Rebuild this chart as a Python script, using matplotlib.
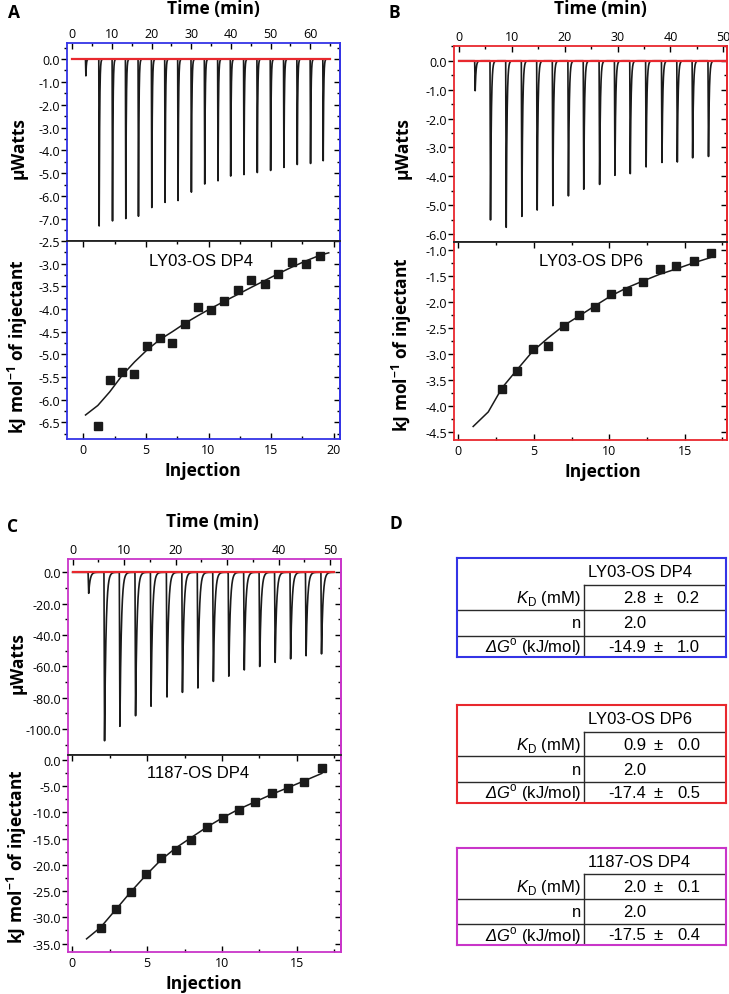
import numpy as np
import matplotlib
matplotlib.use('Agg')
import matplotlib.pyplot as plt
from matplotlib.ticker import MultipleLocator, FormatStrFormatter

W, H = 729, 995

# panel A - LY03-OS DP4
a_inj_time = [3.36, 6.71, 10.07, 13.42, 16.61, 19.97, 23.32, 26.59, 29.95, 33.31,
              36.66, 39.85, 43.2, 46.56, 49.92, 53.27, 56.63, 59.98, 63.17]
a_inj_peak = [-0.75, -7.44, -7.14, -7.03, -6.90, -6.56, -6.34, -6.23, -5.86, -5.57,
              -5.42, -5.19, -5.12, -4.97, -4.94, -4.81, -4.67, -4.62, -4.48]
a_heat_x = [1.16, 2.11, 3.12, 4.09, 5.07, 6.09, 7.12, 8.15, 9.20, 10.17,
            11.26, 12.32, 13.43, 14.51, 15.57, 16.70, 17.76, 18.93]
a_heat_y = [-6.58, -5.57, -5.39, -5.43, -4.81, -4.63, -4.74, -4.34, -3.96, -4.02,
            -3.83, -3.59, -3.36, -3.45, -3.22, -2.96, -3.01, -2.83]
a_fit_x = [0.18, 1.16, 2.11, 3.12, 4.09, 5.07, 6.09, 7.12, 8.15, 9.20, 10.17,
           11.26, 12.32, 13.43, 14.51, 15.57, 16.70, 17.76, 18.93, 19.6]
a_fit_y = [-6.34, -6.13, -5.83, -5.46, -5.17, -4.91, -4.68, -4.50, -4.31, -4.14, -3.99,
           -3.83, -3.68, -3.52, -3.37, -3.22, -3.07, -2.94, -2.81, -2.76]

# panel B - LY03-OS DP6
b_inj_time = [2.96, 5.86, 8.83, 11.79, 14.69, 17.65, 20.6, 23.5, 26.5, 29.4,
              32.3, 35.3, 38.3, 41.2, 44.1, 47.1]
b_inj_peak = [-1.04, -5.54, -5.82, -5.45, -5.19, -5.02, -4.69, -4.50, -4.33, -3.98,
              -3.92, -3.69, -3.54, -3.54, -3.37, -3.32]
b_heat_x = [2.91, 3.91, 4.93, 5.93, 6.97, 8.02, 9.04, 10.09, 11.17, 12.24,
            13.35, 14.42, 15.60, 16.71]
b_heat_y = [-3.68, -3.33, -2.90, -2.85, -2.46, -2.26, -2.10, -1.85, -1.80, -1.62,
            -1.36, -1.31, -1.21, -1.07]
b_fit_x = [0.98, 1.98, 2.91, 3.91, 4.93, 5.93, 6.97, 8.02, 9.04, 10.09, 11.17,
           12.24, 13.35, 14.42, 15.60, 16.71]
b_fit_y = [-4.40, -4.12, -3.65, -3.30, -2.95, -2.70, -2.46, -2.27, -2.08, -1.89, -1.73,
           -1.60, -1.47, -1.37, -1.25, -1.15]

# panel C - 1187-OS DP4
c_inj_time = [3.0, 6.08, 9.06, 12.1, 15.1, 18.2, 21.2, 24.2, 27.2, 30.2,
              33.2, 36.2, 39.2, 42.2, 45.2, 48.2]
c_inj_peak = [-13.4, -108.1, -98.5, -91.9, -85.8, -79.8, -77.2, -74.0, -70.2, -66.4,
              -62.8, -60.2, -57.9, -55.3, -53.6, -52.1]
c_heat_x = [1.89, 2.91, 3.89, 4.91, 5.91, 6.91, 7.95, 9.00, 10.07, 11.13,
            12.22, 13.31, 14.42, 15.51, 16.67]
c_heat_y = [-32.1, -28.4, -25.1, -21.7, -18.7, -17.2, -15.2, -12.9, -11.1, -9.5,
            -8.1, -6.3, -5.4, -4.3, -1.6]
c_fit_x = [0.95, 1.89, 2.91, 3.89, 4.91, 5.91, 6.91, 7.95, 9.00, 10.07, 11.13,
           12.22, 13.31, 14.42, 15.51, 16.67]
c_fit_y = [-34.1, -31.9, -28.5, -25.2, -22.0, -19.1, -16.8, -14.8, -12.8, -11.0, -9.4,
           -8.0, -6.6, -5.3, -4.0, -2.6]

# panel D tables
tbl_names = ['LY03-OS DP4', 'LY03-OS DP6', '1187-OS DP4']
kd_mean = ['2.8', '0.9', '2.0']
kd_err = ['0.2', '0.0', '0.1']
n_val = ['2.0', '2.0', '2.0']
dg_mean = ['-14.9', '-17.4', '-17.5']
dg_err = ['1.0', '0.5', '0.4']

BLUE = '#3434e6'
RED = '#e8282e'
MAG = '#c935c9'

plt.rcParams['font.family'] = ['Open Sans', 'DejaVu Sans']
plt.rcParams['axes.unicode_minus'] = False
plt.rcParams['mathtext.fontset'] = 'custom'
plt.rcParams['mathtext.rm'] = 'Liberation Sans'
plt.rcParams['mathtext.sf'] = 'Liberation Sans:italic'
plt.rcParams['mathtext.bf'] = 'Open Sans:bold'

fig = plt.figure(figsize=(W / 100, H / 100), dpi=100)


def box(l, t, r, b):
    return [l / W, 1 - b / H, (r - l) / W, (b - t) / H]


def ftext(x, y, s, **kw):
    fig.text(x / W, 1 - y / H, s, ha=kw.pop('ha', 'center'), va='center', **kw)


def thermogram(t, times, peaks, rise, tau):
    y = np.zeros_like(t)
    for t0, d in zip(times, peaks):
        dt = t - t0
        m1 = (dt >= 0) & (dt < rise)
        y[m1] += d * dt[m1] / rise
        m2 = dt >= rise
        y[m2] += d * np.exp(-(dt[m2] - rise) / tau)
    return y


def frame(ax, color, upper, ymaj, ymin, xmaj, xmin, yfmt):
    for s in ['left', 'right']:
        ax.spines[s].set_color(color)
    ax.spines['top' if upper else 'bottom'].set_color(color)
    ax.spines['bottom' if upper else 'top'].set_color('#222222')
    for s in ax.spines.values():
        s.set_linewidth(1.3)
    ax.yaxis.set_major_locator(MultipleLocator(ymaj))
    ax.yaxis.set_minor_locator(MultipleLocator(ymin))
    ax.yaxis.set_major_formatter(FormatStrFormatter(yfmt))
    ax.xaxis.set_major_locator(MultipleLocator(xmaj))
    ax.xaxis.set_minor_locator(MultipleLocator(xmin))
    ax.xaxis.set_major_formatter(FormatStrFormatter('%d'))
    ax.tick_params(axis='y', which='both', direction='out', left=True, right=False,
                   labelsize=9, pad=1, width=1)
    ax.tick_params(axis='y', which='major', length=4)
    ax.tick_params(axis='y', which='minor', length=2.5)
    if upper:
        ax.tick_params(axis='x', which='both', direction='in', top=True, bottom=False,
                       labeltop=True, labelbottom=False, labelsize=9, pad=2, width=1)
    else:
        ax.tick_params(axis='x', which='both', direction='in', top=True, bottom=True,
                       labelsize=9, pad=3, width=1)
    ax.tick_params(axis='x', which='major', length=4)
    ax.tick_params(axis='x', which='minor', length=2.5)
    sec = ax.secondary_yaxis('right')
    sec.yaxis.set_major_locator(MultipleLocator(ymaj))
    sec.yaxis.set_minor_locator(MultipleLocator(ymin))
    sec.tick_params(which='both', direction='in', labelright=False, width=1)
    sec.tick_params(which='major', length=4)
    sec.tick_params(which='minor', length=2.5)
    sec.spines['right'].set_color(color)
    sec.spines['right'].set_linewidth(1.3)


panels = [
    dict(color=BLUE, top=(67, 44, 340, 242), bot=(67, 242, 340, 440),
         times=a_inj_time, peaks=a_inj_peak, tend=65.0, txlim=(-1.3, 67.5),
         tylim=(-7.96, 0.7), tymaj=1.0, tymin=0.5, rise=0.1, tau=0.12,
         hx=a_heat_x, hy=a_heat_y, fx=a_fit_x, fy=a_fit_y,
         bxlim=(-1.3, 20.5), bylim=(-6.87, -2.499), bymaj=0.5, bymin=0.25,
         bxmaj=5, bxmin=2.5, byfmt='%.1f', tyfmt='%.1f'),
    dict(color=RED, top=(454, 47, 727, 243), bot=(454, 243, 727, 441),
         times=b_inj_time, peaks=b_inj_peak, tend=50.5, txlim=(-0.95, 50.7),
         tylim=(-6.27, 0.51), tymaj=1.0, tymin=0.5, rise=0.1, tau=0.15,
         hx=b_heat_x, hy=b_heat_y, fx=b_fit_x, fy=b_fit_y,
         bxlim=(-0.29, 17.8), bylim=(-4.66, -0.85), bymaj=0.5, bymin=0.25,
         bxmaj=5, bxmin=2.5, byfmt='%.1f', tyfmt='%.1f'),
    dict(color=MAG, top=(68, 560, 341, 756), bot=(68, 756, 341, 953),
         times=c_inj_time, peaks=c_inj_peak, tend=50.7, txlim=(-0.9, 52.1),
         tylim=(-116.6, 8.5), tymaj=20, tymin=10, rise=0.12, tau=0.28,
         hx=c_heat_x, hy=c_heat_y, fx=c_fit_x, fy=c_fit_y,
         bxlim=(-0.29, 17.95), bylim=(-36.6, 0.9), bymaj=5, bymin=2.5,
         bxmaj=5, bxmin=2.5, byfmt='%.1f', tyfmt='%.1f'),
]

for p in panels:
    ax1 = fig.add_axes(box(*p['top']))
    t = np.linspace(0, p['tend'], 15000)
    ax1.plot(t, thermogram(t, p['times'], p['peaks'], p['rise'], p['tau']),
             color='#1a1a1a', lw=1.2)
    ax1.plot([0, p['tend']], [0, 0], color=RED, lw=1.6)
    ax1.set_xlim(*p['txlim'])
    ax1.set_ylim(*p['tylim'])
    frame(ax1, p['color'], True, p['tymaj'], p['tymin'], 10, 5, p['tyfmt'])

    ax2 = fig.add_axes(box(*p['bot']))
    ax2.plot(p['fx'], p['fy'], color='#1a1a1a', lw=1.1)
    ax2.plot(p['hx'], p['hy'], 's', color='#1a1a1a', ms=5.2)
    ax2.set_xlim(*p['bxlim'])
    ax2.set_ylim(*p['bylim'])
    frame(ax2, p['color'], False, p['bymaj'], p['bymin'], p['bxmaj'], p['bxmin'], p['byfmt'])

# axis titles and panel letters
lab = dict(fontsize=12.5, fontweight='bold')
ylab = r'kJ mol$^{\mathbf{-1}}$ of injectant'
ftext(213, 9, 'Time (min)', **lab)
ftext(600, 9, 'Time (min)', **lab)
ftext(212, 522, 'Time (min)', **lab)
ftext(19, 148, 'μWatts', rotation=90, **lab)
ftext(403, 148, 'μWatts', rotation=90, **lab)
ftext(18, 663, 'μWatts', rotation=90, **lab)
ftext(18, 347, ylab, rotation=90, **lab)
ftext(402, 345, ylab, rotation=90, **lab)
ftext(17, 857, ylab, rotation=90, **lab)
ftext(203, 471, 'Injection', **lab)
ftext(603, 472, 'Injection', **lab)
ftext(204, 984, 'Injection', **lab)

inner = dict(fontsize=12, family='Liberation Sans')
ftext(201, 261, tbl_names[0], **inner)
ftext(591, 261, tbl_names[1], **inner)
ftext(198, 774, tbl_names[2], **inner)

let = dict(fontsize=12.5, fontweight='bold')
ftext(14, 13, 'A', **let)
ftext(394, 13, 'B', **let)
ftext(13, 527, 'C', **let)
ftext(396, 524, 'D', **let)

# tables
tcolors = [BLUE, RED, MAG]
tboxes = [(457, 559, 726, 658), (457, 706, 726, 804), (457, 849, 726, 946)]
rows = [1.0, 0.727, 0.475, 0.212, 0.0]
cx = 0.472
tf = dict(fontsize=12, family='Liberation Sans', va='center')
for i, bx in enumerate(tboxes):
    axt = fig.add_axes(box(*bx))
    axt.set_xlim(0, 1)
    axt.set_ylim(0, 1)
    axt.set_xticks([])
    axt.set_yticks([])
    for s in axt.spines.values():
        s.set_color(tcolors[i])
        s.set_linewidth(1.5)
    axt.axhline(rows[1], xmin=cx, xmax=1, color='#2a2a2a', lw=1)
    axt.axhline(rows[2], color='#2a2a2a', lw=1)
    axt.axhline(rows[3], color='#2a2a2a', lw=1)
    axt.axvline(cx, ymin=0, ymax=rows[1], color='#2a2a2a', lw=1)
    mids = [(rows[k] + rows[k + 1]) / 2 for k in range(4)]
    axt.text(0.487, mids[0], tbl_names[i], ha='left', **tf)
    axt.text(0.461, mids[1], r'$\mathsf{K}_{\mathrm{D}}$ (mM)', ha='right', **tf)
    axt.text(0.461, mids[2], 'n', ha='right', **tf)
    axt.text(0.461, mids[3], r'$\mathsf{\Delta G}^{\mathrm{o}}$ (kJ/mol)', ha='right', **tf)
    axt.text(0.703, mids[1], kd_mean[i], ha='right', **tf)
    axt.text(0.746, mids[1], '±', ha='center', **tf)
    axt.text(0.903, mids[1], kd_err[i], ha='right', **tf)
    axt.text(0.703, mids[2], n_val[i], ha='right', **tf)
    axt.text(0.703, mids[3], dg_mean[i], ha='right', **tf)
    axt.text(0.746, mids[3], '±', ha='center', **tf)
    axt.text(0.903, mids[3], dg_err[i], ha='right', **tf)

fig.savefig('out.png', dpi=100)
